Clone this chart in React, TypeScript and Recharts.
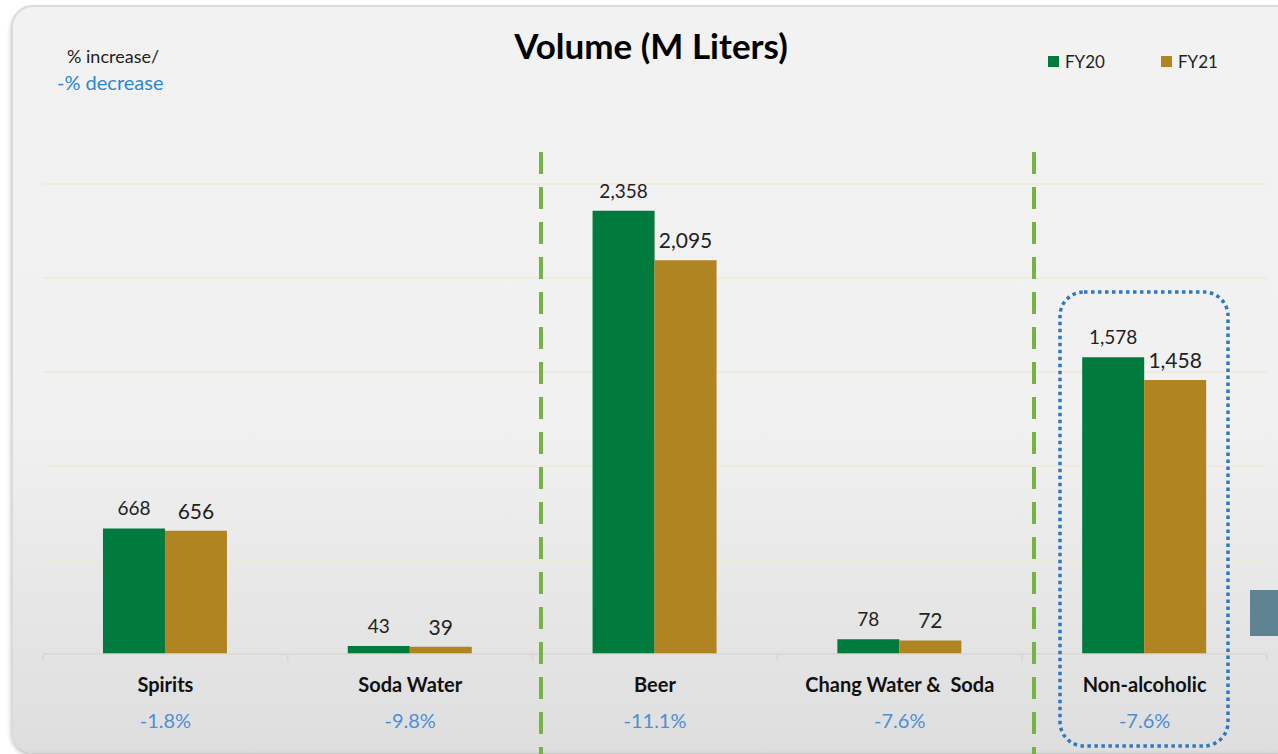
import { BarChart, Bar, XAxis, YAxis, CartesianGrid, LabelList } from 'recharts';

const categories = ['Spirits', 'Soda Water', 'Beer', 'Chang Water &  Soda', 'Non-alcoholic'];
const fy20 = [668, 43, 2358, 78, 1578];
const fy21 = [656, 39, 2095, 72, 1458];
const changes = ['-1.8%', '-9.8%', '-11.1%', '-7.6%', '-7.6%'];
const yTicks = [0, 500, 1000, 1500, 2000, 2500];

const data = categories.map((name, i) => ({ name, fy20: fy20[i], fy21: fy21[i], change: changes[i] }));

const W = 1278;
const H = 754;
const AXIS_H = 30;
const margin = { top: 184, right: 11, bottom: 100 - AXIS_H, left: 43 };
const FONT = 'Lato, "Open Sans", sans-serif';
const GREEN = '#007a3d';
const GOLD = '#b08420';

const fmt = (v: any) => Number(v).toLocaleString('en-US');

const CategoryTick = (props: any) => {
  const { x, y, payload, index } = props;
  return (
    <g>
      <text x={x} y={y + 30} textAnchor="middle" fontSize={20} fontWeight={700} fill="#111" fontFamily={FONT} style={{ whiteSpace: 'pre' }}>
        {payload.value}
      </text>
      <text x={x} y={y + 66} textAnchor="middle" fontSize={20} fill="#4d8ed8" fontFamily={FONT}>
        {changes[index]}
      </text>
    </g>
  );
};

export default function App() {
  const plotW = W - margin.left - margin.right;
  const band = plotW / categories.length;
  const axisY = H - margin.bottom - AXIS_H;
  const boundaries = categories.map((_, i) => margin.left + band * i).concat(margin.left + plotW);

  return (
    <div style={{ position: 'absolute', left: 0, top: 0, width: W, height: H, background: '#fff', overflow: 'hidden', fontFamily: FONT }}>
      <div
        style={{
          position: 'absolute',
          left: 11,
          top: 5,
          width: W + 20,
          height: 744,
          borderRadius: 22,
          border: '2px solid #dadada',
          background: 'linear-gradient(#f2f2f2 0%, #f1f1f1 55%, #dedede 100%)',
          boxShadow: '0 3px 4px rgba(0,0,0,0.25)',
        }}
      />
      <div style={{ position: 'absolute', left: 0, top: 0 }}>
        <BarChart width={W} height={H} data={data} margin={margin} barCategoryGap="24.5%" barGap={0}>
          <CartesianGrid vertical={false} stroke="#efe8d6" strokeWidth={1.5} />
          <YAxis hide domain={[0, 2500]} ticks={yTicks} />
          <XAxis
            dataKey="name"
            height={AXIS_H}
            axisLine={{ stroke: '#d6d6d6', strokeWidth: 1.5 }}
            tickLine={false}
            tick={<CategoryTick />}
            interval={0}
          />
          <Bar dataKey="fy20" name="FY20" fill={GREEN} isAnimationActive={false}>
            <LabelList dataKey="fy20" position="top" offset={13} formatter={fmt} fontSize={19} fill="#222" fontFamily={FONT} />
          </Bar>
          <Bar dataKey="fy21" name="FY21" fill={GOLD} isAnimationActive={false}>
            <LabelList dataKey="fy21" position="top" offset={12} formatter={fmt} fontSize={21} fill="#222" fontFamily={FONT} />
          </Bar>
        </BarChart>
      </div>

      {/* annotations: section dividers, highlight box, category ticks */}
      <svg width={W} height={H} style={{ position: 'absolute', left: 0, top: 0, pointerEvents: 'none' }}>
        {boundaries.map((bx, i) => (
          <line key={i} x1={bx} x2={bx} y1={axisY} y2={axisY + 7} stroke="#d6d6d6" strokeWidth={1.5} />
        ))}
        <line x1={541} x2={541} y1={152} y2={754} stroke="#77b244" strokeWidth={4} strokeDasharray="22 13" />
        <line x1={1034} x2={1034} y1={152} y2={754} stroke="#77b244" strokeWidth={4} strokeDasharray="22 13" />
        <rect x={1060} y={292} width={168} height={454} rx={24} fill="none" stroke="#2f78c4" strokeWidth={3.5} strokeDasharray="3.5 3.5" />
        <rect x={1250} y={590} width={30} height={46} fill="#5f8391" />
      </svg>

      <div style={{ position: 'absolute', left: 0, top: 24, width: 1302, textAlign: 'center', fontSize: 35, fontWeight: 700, color: '#000' }}>
        Volume (M Liters)
      </div>
      <div style={{ position: 'absolute', left: 67, top: 45, fontSize: 18, color: '#222' }}>% increase/</div>
      <div style={{ position: 'absolute', left: 57, top: 70, fontSize: 20, color: '#2b87d1' }}>-% decrease</div>

      <div style={{ position: 'absolute', left: 1048, top: 51, display: 'flex', alignItems: 'center', fontSize: 17, color: '#222' }}>
        <span style={{ width: 11, height: 11, background: GREEN, marginRight: 6, display: 'inline-block' }} />
        FY20
      </div>
      <div style={{ position: 'absolute', left: 1161, top: 51, display: 'flex', alignItems: 'center', fontSize: 17, color: '#222' }}>
        <span style={{ width: 11, height: 11, background: GOLD, marginRight: 6, display: 'inline-block' }} />
        FY21
      </div>
    </div>
  );
}
